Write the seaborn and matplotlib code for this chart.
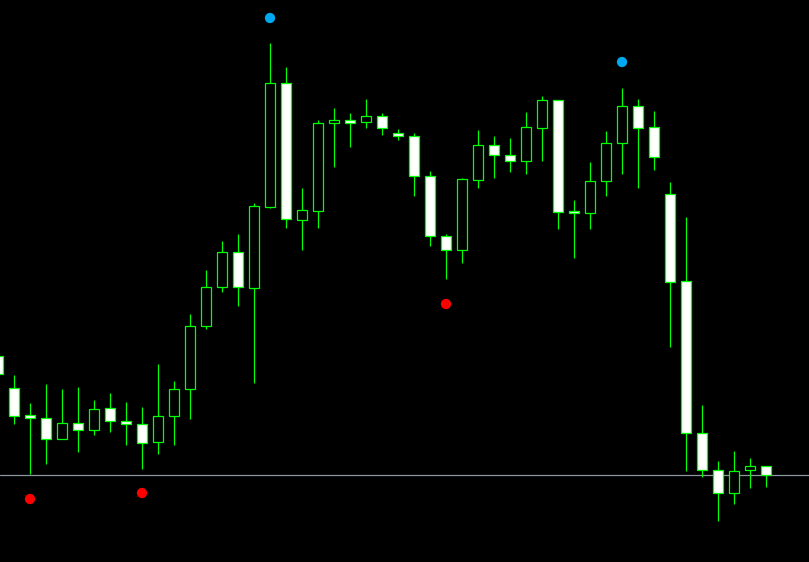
import numpy as np
import pandas as pd
import matplotlib
matplotlib.use("Agg")
import matplotlib.pyplot as plt
import seaborn as sns

# precios (escala = 562 - pixel)
open_ = [206, 174, 147, 144, 123, 139, 132, 154, 141, 138, 120, 146, 173, 236, 275, 310, 274, 355, 479, 342, 351, 439, 442, 440, 446, 429, 426, 386, 326, 312, 382, 417, 407, 401, 434, 462, 351, 349, 381, 419, 456, 435, 368, 281, 129, 92, 69, 92, 96]
high_ = [206, 187, 159, 178, 173, 175, 162, 169, 160, 155, 198, 181, 248, 292, 321, 328, 359, 519, 495, 374, 442, 454, 449, 463, 449, 433, 429, 391, 328, 384, 432, 426, 424, 450, 466, 462, 362, 400, 431, 474, 463, 451, 380, 345, 157, 101, 111, 104, 96]
low_ = [188, 138, 88, 98, 123, 110, 127, 130, 117, 93, 108, 117, 143, 233, 270, 256, 179, 354, 334, 312, 334, 395, 415, 434, 427, 422, 366, 316, 283, 299, 374, 384, 390, 388, 401, 333, 304, 333, 366, 388, 374, 392, 215, 91, 85, 41, 58, 74, 75]
close_ = [188, 146, 144, 123, 139, 132, 153, 141, 138, 119, 146, 173, 236, 275, 310, 275, 356, 479, 343, 352, 439, 442, 439, 446, 434, 426, 386, 326, 312, 383, 417, 407, 401, 435, 462, 350, 349, 381, 419, 456, 434, 405, 280, 129, 92, 69, 91, 96, 87]

# puntos (fractales)
rojo_idx = [2, 9, 28]
rojo_val = [63, 69, 258]
azul_idx = [17, 39]
azul_val = [544, 500]

nivel = 87  # linea horizontal

df = pd.DataFrame({"o": open_, "h": high_, "l": low_, "c": close_})
df["i"] = np.arange(len(df))
df["alcista"] = df["c"] > df["o"]

sns.set_style("dark", {"axes.facecolor": "black", "figure.facecolor": "black"})

fig = plt.figure(figsize=(8.09, 5.62), dpi=100)
ax = fig.add_axes([0, 0, 1, 1])
ax.set_facecolor("black")

# mechas
ax.vlines(df["i"], df["l"], df["h"], color="#00ff00", lw=0.9, zorder=1)

# cuerpos
cuerpo_bajo = np.minimum(df["o"], df["c"])
cuerpo_alto = np.maximum(df["o"], df["c"])
colores = np.where(df["alcista"], "black", "white")
ax.bar(df["i"], cuerpo_alto - cuerpo_bajo, bottom=cuerpo_bajo, width=0.6,
       color=colores, edgecolor="#00ff00", linewidth=0.9, zorder=2)

ax.axhline(nivel, color="#8c96a0", lw=0.9, zorder=0)

sns.scatterplot(x=rojo_idx, y=rojo_val, color="#ff0000", s=55, edgecolor="none", ax=ax, zorder=3)
sns.scatterplot(x=azul_idx, y=azul_val, color="#00a8f0", s=55, edgecolor="none", ax=ax, zorder=3)

ax.set_xlim(0.125, 50.6875)
ax.set_ylim(0, 562)
ax.set_xticks([])
ax.set_yticks([])
for s in ax.spines.values():
    s.set_visible(False)

fig.savefig("out.png", dpi=100, facecolor="black")
